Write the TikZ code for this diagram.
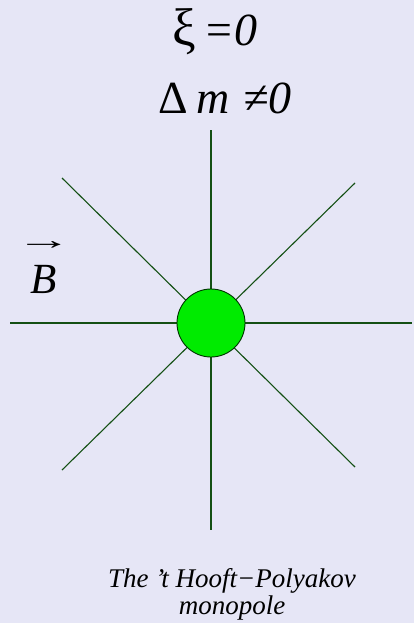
\documentclass[tikz,border=0pt]{standalone}
\usepackage{fontspec}
\setmainfont{Liberation Serif}
\begin{document}
\begin{tikzpicture}[x=1pt,y=-1pt,
  ray/.style={draw=rayc, line width=1.1pt},
  lbl/.style={inner sep=0pt, anchor=center, text=black}]
\definecolor{bgc}{RGB}{230,230,246}
\definecolor{rayc}{RGB}{20,80,20}
\definecolor{ballc}{RGB}{0,235,0}
\fill[bgc] (0,0) rectangle (414,623);
\useasboundingbox (0,0) rectangle (414,623);
% ray ends
\coordinate (n) at (211,130);
\coordinate (s) at (211,530);
\coordinate (w) at (10,323);
\coordinate (e) at (412,323);
\coordinate (nw) at (62,178);
\coordinate (se) at (355,467);
\coordinate (ne) at (355,183);
\coordinate (sw) at (62,470);
\draw[ray] (n) -- (s);
\draw[ray] (w) -- (e);
\draw[ray] (nw) -- (se);
\draw[ray] (ne) -- (sw);
\node[circle, draw=black!80!green, line width=0.9pt, fill=ballc, minimum size=68pt, inner sep=0pt] (c) at (211,323) {};
% labels
\node[lbl, font=\fontsize{46}{50}\selectfont] (xi) at (215,32) {\scalebox{1.15}{ξ}\kern7pt\textit{=0}};
\node[lbl, font=\fontsize{46}{50}\selectfont] (dm) at (225,98) {Δ\kern8pt\textit{m}\kern14pt\textit{≠0}};
\node[lbl, font=\fontsize{43}{46}\selectfont\itshape] (B) at (44,279) {B};
\node[lbl, font=\fontsize{28}{30}\selectfont] (arr) at (44,246) {\scalebox{2.0}[1.0]{→}};
\node[lbl, font=\fontsize{27}{30}\selectfont\itshape] (cap1) at (232,581) {The ’t Hooft−Polyakov};
\node[lbl, font=\fontsize{27}{30}\selectfont\itshape] (cap2) at (232,608) {monopole};
\end{tikzpicture}
\end{document}
